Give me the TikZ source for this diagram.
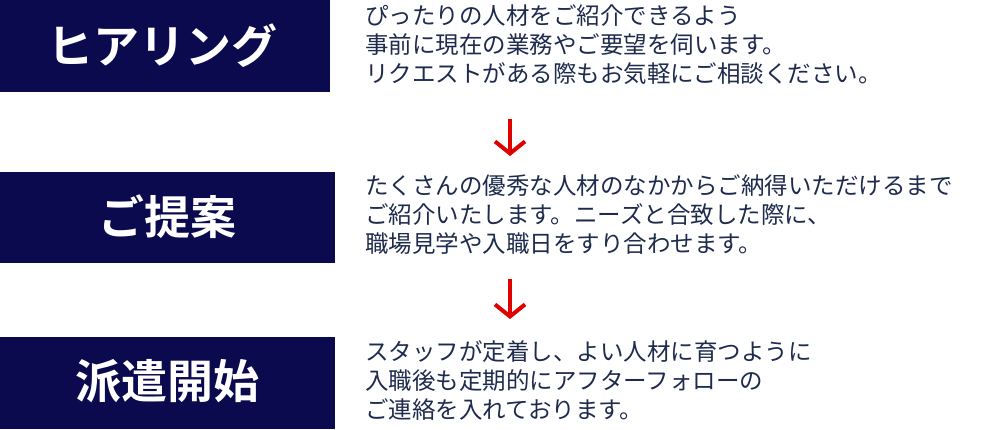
\documentclass[tikz,border=0pt]{standalone}
\usepackage{fontspec}
\newfontfamily\jp{Noto Sans CJK JP}
\newfontfamily\jpb{Noto Sans CJK JP Bold}
\usetikzlibrary{arrows.meta}
\definecolor{navy}{HTML}{0B0A4F}
\definecolor{txt}{HTML}{1E2B4D}
\definecolor{red}{HTML}{E00000}
\begin{document}
\begin{tikzpicture}[x=1pt,y=-1pt,
  head/.style={fill=navy,text=white,font=\jpb\fontsize{46}{52}\selectfont,minimum width=335pt,inner sep=0pt},
  body/.style={text=txt,font=\jp\fontsize{23.5}{29}\selectfont,anchor=west,align=left,inner sep=0pt},
  down/.style={red,line width=4pt,-{Straight Barb[length=12pt,width=30pt,line width=4pt]}}]
\useasboundingbox (0,0) rectangle (981,429);
\node[head,minimum height=92pt] (h1) at (162,46) {ヒアリング};
\node[head,minimum height=91pt] (h2) at (167.5,217.5) {};
\node[text=white,font=\jpb\fontsize{46}{52}\selectfont] (h2t) at (167,217) {ご提案};
\node[head,minimum height=92pt] (h3) at (167.5,383) {};
\node[text=white,font=\jpb\fontsize{46}{52}\selectfont] (h3t) at (167,381) {派遣開始};
\node[body] (t1) at (365,45) {ぴったりの人材をご紹介できるよう\\事前に現在の業務やご要望を伺います。\\リクエストがある際もお気軽にご相談ください。};
\node[body] (t2) at (365,215) {たくさんの優秀な人材のなかからご納得いただけるまで\\ご紹介いたします。ニーズと合致した際に、\\職場見学や入職日をすり合わせます。};
\node[body] (t3) at (365,381) {スタッフが定着し、よい人材に育つように\\入職後も定期的にアフターフォローの\\ご連絡を入れております。};
\coordinate (a1) at (510,119); \coordinate (b1) at (510,156);
\coordinate (a2) at (510,279); \coordinate (b2) at (510,319);
\draw[down] (a1) -- (b1);
\draw[down] (a2) -- (b2);
\end{tikzpicture}
\end{document}
